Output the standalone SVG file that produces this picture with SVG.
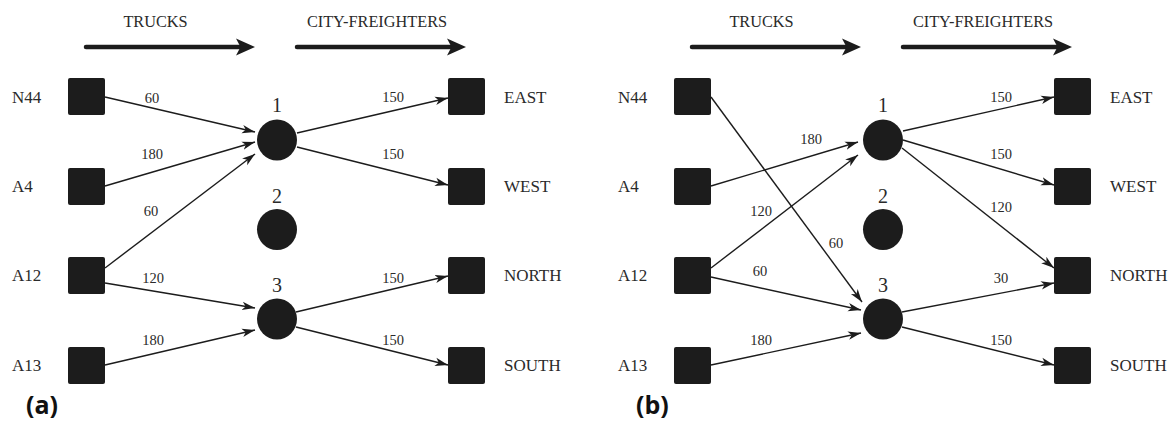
<svg xmlns="http://www.w3.org/2000/svg" width="1170" height="423" viewBox="0 0 1170 423">
<defs>
<style>
.sq{fill:#1c1c1c}
.ci{fill:#1c1c1c}
.e{stroke:#1c1c1c;stroke-width:1.4;fill:none;marker-end:url(#ah)}
.big{stroke:#1c1c1c;stroke-width:4.5;stroke-linecap:round;fill:none}
.bh{fill:#1c1c1c}
.nl{font-family:"Liberation Serif",serif;font-size:17px;fill:#2a2a2a}
.hd{font-family:"Liberation Serif",serif;font-size:16.3px;fill:#2a2a2a;text-anchor:middle}
.el{font-family:"Liberation Serif",serif;font-size:14.5px;fill:#2a2a2a;text-anchor:middle}
.cl{font-family:"Liberation Serif",serif;font-size:20px;fill:#2a2a2a;text-anchor:middle}
.pl{font-family:"Open Sans",sans-serif;font-size:25px;font-weight:bold;fill:#111}
</style>
<marker id="ah" markerUnits="userSpaceOnUse" markerWidth="14" markerHeight="10" refX="13" refY="5" orient="auto">
<path d="M0,0.8 L13,5 L0,9.2 L3.5,5 z" fill="#1c1c1c"/>
</marker>
</defs>

<g id="headers">
<text class="hd" x="155.5" y="27">TRUCKS</text>
<text class="hd" x="377" y="27">CITY-FREIGHTERS</text>
<line class="big" x1="86" y1="47" x2="241" y2="47"/>
<path class="bh" d="M236,38.5 L255,47 L236,55.5 L240.5,47 z"/>
<line class="big" x1="297" y1="47" x2="452" y2="47"/>
<path class="bh" d="M447,38.5 L466,47 L447,55.5 L451.5,47 z"/>
<text class="hd" x="761.5" y="27">TRUCKS</text>
<text class="hd" x="983" y="27">CITY-FREIGHTERS</text>
<line class="big" x1="692" y1="47" x2="847" y2="47"/>
<path class="bh" d="M842,38.5 L861,47 L842,55.5 L846.5,47 z"/>
<line class="big" x1="903" y1="47" x2="1058" y2="47"/>
<path class="bh" d="M1053,38.5 L1072,47 L1053,55.5 L1057.5,47 z"/>
</g>

<g id="connectors">
<path class="e" d="M105,97 L255,132"/>
<path class="e" d="M105,186 L255,142"/>
<path class="e" d="M105,268 L255,154"/>
<path class="e" d="M105,283 L255,308"/>
<path class="e" d="M105,365 L255,330"/>
<path class="e" d="M297,133 L448,98"/>
<path class="e" d="M297,147 L448,185"/>
<path class="e" d="M296,312 L448,276"/>
<path class="e" d="M296,327 L448,365"/>
<text class="el" x="152" y="103">60</text>
<text class="el" x="152" y="159">180</text>
<text class="el" x="151" y="216">60</text>
<text class="el" x="153" y="283">120</text>
<text class="el" x="153" y="345">180</text>
<text class="el" x="393" y="102">150</text>
<text class="el" x="393" y="159">150</text>
<text class="el" x="393" y="283">150</text>
<text class="el" x="393" y="345">150</text>

<path class="e" d="M711,97 L862,302"/>
<path class="e" d="M711,186 L858,142"/>
<path class="e" d="M711,268 L858,155"/>
<path class="e" d="M711,277 L861,310"/>
<path class="e" d="M711,365 L861,333"/>
<path class="e" d="M903,131 L1054,97"/>
<path class="e" d="M903,140 L1054,185"/>
<path class="e" d="M902,148 L1054,268"/>
<path class="e" d="M902,312 L1054,283"/>
<path class="e" d="M902,327 L1054,365"/>
<text class="el" x="836" y="248">60</text>
<text class="el" x="811" y="144">180</text>
<text class="el" x="761" y="216">120</text>
<text class="el" x="760" y="276">60</text>
<text class="el" x="761" y="345">180</text>
<text class="el" x="1001" y="102">150</text>
<text class="el" x="1001" y="159">150</text>
<text class="el" x="1001" y="212">120</text>
<text class="el" x="1001" y="283">30</text>
<text class="el" x="1001" y="345">150</text>
</g>

<g id="a-N44"><rect class="sq" x="68" y="78" width="37" height="37" rx="2"/><text class="nl" x="12" y="103">N44</text></g>
<g id="a-A4"><rect class="sq" x="68" y="168" width="37" height="37" rx="2"/><text class="nl" x="12" y="192">A4</text></g>
<g id="a-A12"><rect class="sq" x="68" y="257" width="37" height="37" rx="2"/><text class="nl" x="12" y="281">A12</text></g>
<g id="a-A13"><rect class="sq" x="68" y="347" width="37" height="37" rx="2"/><text class="nl" x="12" y="371">A13</text></g>
<g id="a-EAST"><rect class="sq" x="448" y="78" width="37" height="37" rx="2"/><text class="nl" x="504" y="103">EAST</text></g>
<g id="a-WEST"><rect class="sq" x="448" y="168" width="37" height="37" rx="2"/><text class="nl" x="504" y="192">WEST</text></g>
<g id="a-NORTH"><rect class="sq" x="448" y="257" width="37" height="37" rx="2"/><text class="nl" x="504" y="281">NORTH</text></g>
<g id="a-SOUTH"><rect class="sq" x="448" y="347" width="37" height="37" rx="2"/><text class="nl" x="504" y="371">SOUTH</text></g>
<g id="a-hub1"><ellipse class="ci" cx="277" cy="140" rx="20" ry="20.5"/><text class="cl" x="277" y="112">1</text></g>
<g id="a-hub2"><ellipse class="ci" cx="277" cy="229.5" rx="20" ry="20.5"/><text class="cl" x="277" y="203">2</text></g>
<g id="a-hub3"><ellipse class="ci" cx="277" cy="319" rx="20" ry="20.5"/><text class="cl" x="277" y="292">3</text></g>

<g id="b-N44"><rect class="sq" x="674" y="78" width="37" height="37" rx="2"/><text class="nl" x="618" y="103">N44</text></g>
<g id="b-A4"><rect class="sq" x="674" y="168" width="37" height="37" rx="2"/><text class="nl" x="618" y="192">A4</text></g>
<g id="b-A12"><rect class="sq" x="674" y="257" width="37" height="37" rx="2"/><text class="nl" x="618" y="281">A12</text></g>
<g id="b-A13"><rect class="sq" x="674" y="347" width="37" height="37" rx="2"/><text class="nl" x="618" y="371">A13</text></g>
<g id="b-EAST"><rect class="sq" x="1054" y="78" width="37" height="37" rx="2"/><text class="nl" x="1110" y="103">EAST</text></g>
<g id="b-WEST"><rect class="sq" x="1054" y="168" width="37" height="37" rx="2"/><text class="nl" x="1110" y="192">WEST</text></g>
<g id="b-NORTH"><rect class="sq" x="1054" y="257" width="37" height="37" rx="2"/><text class="nl" x="1110" y="281">NORTH</text></g>
<g id="b-SOUTH"><rect class="sq" x="1054" y="347" width="37" height="37" rx="2"/><text class="nl" x="1110" y="371">SOUTH</text></g>
<g id="b-hub1"><ellipse class="ci" cx="883" cy="140" rx="20" ry="20.5"/><text class="cl" x="883" y="112">1</text></g>
<g id="b-hub2"><ellipse class="ci" cx="883" cy="229.5" rx="20" ry="20.5"/><text class="cl" x="883" y="203">2</text></g>
<g id="b-hub3"><ellipse class="ci" cx="883" cy="319" rx="20" ry="20.5"/><text class="cl" x="883" y="292">3</text></g>

<g id="panel-labels">
<text class="pl" x="26" y="414">(a)</text>
<text class="pl" x="636" y="414">(b)</text>
</g>
</svg>
